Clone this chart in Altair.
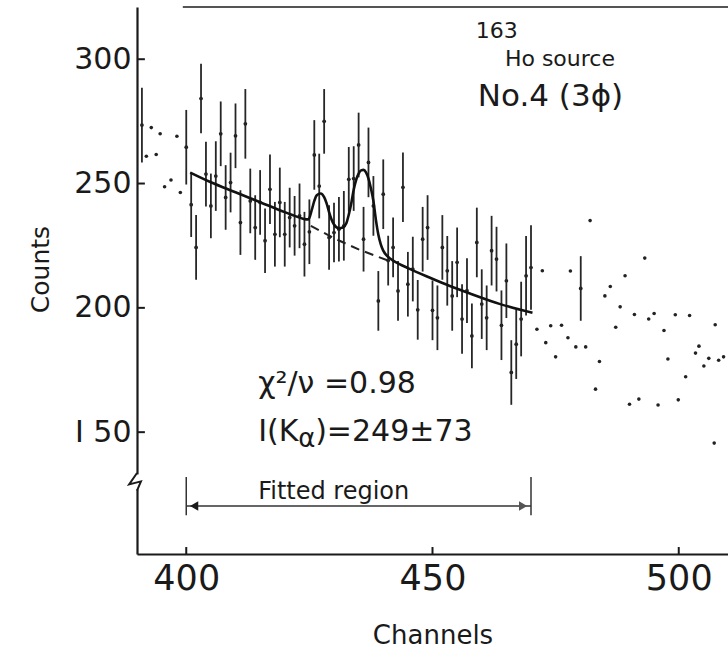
import altair as alt
import pandas as pd

# ---- data ----
fit_ch = list(range(400, 471))
fit_cnt = [264.6, 241.5, 224.3, 284.2, 253.8, 241.0, 253.0, 270.0, 244.4, 250.4,
           269.2, 234.3, 274.0, 243.0, 232.3, 242.4, 227.0, 247.7, 229.6, 242.4,
           229.6, 236.3, 233.0, 237.0, 225.6, 230.6, 261.5, 249.0, 275.0, 228.3,
           230.3, 231.6, 233.0, 251.7, 252.0, 265.5, 227.6, 258.5, 241.0, 202.8,
           245.7, 219.0, 224.3, 206.8, 248.5, 209.5, 215.6, 199.2, 227.6, 232.3,
           199.0, 196.0, 224.3, 214.9, 204.8, 218.3, 195.5, 206.9, 188.7, 226.3,
           201.5, 196.0, 223.0, 219.6, 193.0, 210.9, 174.0, 185.4, 195.5, 212.9,
           216.2]
fit_err = [15, 13, 13, 14, 13, 13, 14, 13, 13, 12,
           13, 13, 14, 13, 13, 13, 13, 14, 13, 14,
           13, 12, 12, 13, 13, 13, 14, 13, 13, 13,
           12, 13, 14, 13, 13, 13, 13, 14, 12, 12,
           14, 10, 12, 12, 14, 13, 13, 12, 13, 13,
           12, 13, 13, 14, 14, 14, 14, 13, 13, 14,
           14, 13, 14, 13, 14, 15, 13, 14, 15, 16,
           17]

side_bar_ch = [391.0, 480.1]
side_bar_cnt = [273.5, 207.8]
side_bar_err = [15, 13]

left_dot_ch = [392.9, 394.7, 398.1, 391.9, 393.9, 395.6, 396.9, 398.8]
left_dot_cnt = [272.5, 270.0, 269.0, 261.0, 261.7, 248.7, 251.4, 246.4]

right_dot_ch = [472.3, 471.2, 473.0, 474.0, 475.0, 476.2, 477.5, 478.0, 479.1, 481.1,
                482.0, 483.1, 483.9, 485.0, 486.1, 487.2, 488.1, 489.1, 490.0, 491.0,
                491.9, 493.1, 493.9, 495.0, 495.8, 497.0, 497.8, 499.3, 499.9, 501.4,
                502.2, 503.4, 504.1, 505.1, 506.1, 507.4, 508.1, 509.1, 507.2]
right_dot_cnt = [214.9, 191.4, 186.0, 192.8, 180.3, 193.0, 188.0, 214.8, 184.3, 184.3,
                 235.1, 167.3, 178.4, 204.8, 208.6, 192.2, 200.4, 212.9, 161.2, 197.3,
                 163.3, 220.0, 195.5, 197.7, 160.9, 190.9, 179.4, 197.2, 163.0, 172.3,
                 196.9, 181.8, 184.6, 176.6, 179.7, 193.2, 178.9, 180.3, 145.6]

curve_ch = [400.8, 405, 410, 415, 420, 423, 424, 424.8, 425.5, 426, 426.5, 427.3, 428,
            428.5, 429, 429.5, 430, 431, 431.8, 432.5, 433, 433.5, 434, 434.5, 435,
            435.5, 436, 436.5, 437, 437.5, 438, 438.5, 439, 439.5, 440, 441, 442,
            443.3, 445, 449.4, 453.4, 458, 463.6, 470.3]
curve_cnt = [254.4, 250.5, 246.5, 242.5, 238.5, 236.3, 235.7, 235.6, 239.5, 243.0,
             245.3, 246.0, 244.5, 242.0, 238.5, 235.5, 233.5, 232.0, 232.3, 234.0,
             237.5, 242.0, 247.5, 251.5, 254.0, 255.3, 255.5, 254.5, 252.0, 248.0,
             243.0, 235.5, 229.5, 225.5, 223.0, 220.5, 219.0, 217.6, 216.0, 212.2,
             208.9, 205.5, 201.6, 198.0]

bg_ch = [425.3, 430.0, 435.0, 441.0]
bg_cnt = [233.0, 228.0, 223.5, 219.0]

y_ticks = [150, 200, 250, 300]
x_ticks = [400, 450, 500]

FONT = "DejaVu Sans"
INK = "#1a1a1a"

# ---- scales / shared encodings ----
xs = alt.Scale(domain=[390, 510], nice=False, zero=False)
ys = alt.Scale(domain=[101, 321], nice=False, zero=False)

x_axis = alt.Axis(
    values=x_ticks, title="Channels", ticks=False, grid=False,
    labelFontSize=35, labelPadding=7, labelFont=FONT, labelColor=INK,
    titleFont=FONT, titleFontSize=26, titleFontWeight="normal", titlePadding=26,
    titleColor=INK, domainColor=INK, domainWidth=2.2, labelFlush=False)
y_axis = alt.Axis(
    values=y_ticks, title="Counts", ticks=False, grid=False,
    labelFontSize=30, labelPadding=6, labelFont=FONT, labelColor=INK,
    labelExpr="datum.value == 150 ? 'I 50' : datum.label",
    titleFont=FONT, titleFontSize=25, titleFontWeight="normal", titlePadding=20,
    titleY=262, titleColor=INK, domainColor=INK, domainWidth=2.2, labelFlush=False)

X = alt.X("ch:Q", scale=xs, axis=x_axis)
Y = alt.Y("cnt:Q", scale=ys, axis=y_axis)

fit_df = pd.DataFrame({"ch": fit_ch, "cnt": fit_cnt, "err": fit_err})
side_df = pd.DataFrame({"ch": side_bar_ch, "cnt": side_bar_cnt, "err": side_bar_err})
bars_df = pd.concat([fit_df, side_df], ignore_index=True)
dots_df = pd.DataFrame({"ch": left_dot_ch + right_dot_ch,
                        "cnt": left_dot_cnt + right_dot_cnt})
curve_df = pd.DataFrame({"ch": curve_ch, "cnt": curve_cnt})
bg_df = pd.DataFrame({"ch": bg_ch, "cnt": bg_cnt})

base_bars = alt.Chart(bars_df)
centers = base_bars.mark_point(filled=True, color=INK, size=14, opacity=1).encode(x=X, y=Y)
errbars = base_bars.transform_calculate(
    lo="datum.cnt - datum.err", hi="datum.cnt + datum.err"
).mark_rule(color="#262626", strokeWidth=1.8).encode(
    x=X, y=alt.Y("lo:Q", scale=ys, axis=y_axis), y2="hi:Q")
dots = alt.Chart(dots_df).mark_point(filled=True, color="#222222", size=13, opacity=1).encode(x=X, y=Y)

curve = alt.Chart(curve_df).mark_line(color="#111111", strokeWidth=2.6, interpolate="monotone").encode(
    x=X, y=Y, order="ch:Q")
bg = alt.Chart(bg_df).mark_line(color="#222222", strokeWidth=2, strokeDash=[9, 6]).encode(
    x=X, y=Y, order="ch:Q")

# inward tick marks
ytick_df = pd.DataFrame({"ch": [390.0] * 4, "ch2": [391.6] * 4, "cnt": y_ticks})
xtick_df = pd.DataFrame({"ch": x_ticks, "cnt": [101.0] * 3, "cnt2": [103.8] * 3})
yticks = alt.Chart(ytick_df).mark_rule(color=INK, strokeWidth=2).encode(x=X, x2="ch2:Q", y=Y)
xticks = alt.Chart(xtick_df).mark_rule(color=INK, strokeWidth=2).encode(x=X, y=Y, y2="cnt2:Q")

# top frame line
top_df = pd.DataFrame({"ch": [399.3], "ch2": [510.0], "cnt": [321.0]})
top = alt.Chart(top_df).mark_rule(color="#555555", strokeWidth=2).encode(x=X, x2="ch2:Q", y=Y)

# axis break zigzag
zig_df = pd.DataFrame({"ch": [390.0, 388.4, 390.8, 390.0],
                       "cnt": [133.6, 129.0, 130.2, 126.5],
                       "k": [0, 1, 2, 3]})
white_df = pd.DataFrame({"ch": [390.0], "cnt": [133.0], "cnt2": [127.0]})
gap = alt.Chart(white_df).mark_rule(color="white", strokeWidth=5).encode(x=X, y=Y, y2="cnt2:Q")
zig = alt.Chart(zig_df).mark_line(color=INK, strokeWidth=2, clip=False).encode(x=X, y=Y, order="k:Q")

# fitted region arrow
arr_df = pd.DataFrame({"ch": [400.0], "ch2": [470.0], "cnt": [120.3]})
arrow_line = alt.Chart(arr_df).mark_rule(color="#333333", strokeWidth=1.5).encode(x=X, x2="ch2:Q", y=Y)
end_df = pd.DataFrame({"ch": [400.0, 470.0], "cnt": [132.0, 132.0], "cnt2": [116.6, 116.6]})
ends = alt.Chart(end_df).mark_rule(color="#333333", strokeWidth=1.5).encode(x=X, y=Y, y2="cnt2:Q")
head_l = alt.Chart(pd.DataFrame({"ch": [401.6], "cnt": [120.3]})).mark_point(
    shape="triangle-left", filled=True, size=90, color=INK, opacity=1).encode(x=X, y=Y)
head_r = alt.Chart(pd.DataFrame({"ch": [468.4], "cnt": [120.3]})).mark_point(
    shape="triangle-right", filled=True, size=90, color="#555555", opacity=1).encode(x=X, y=Y)


def label(ch, cnt, text, size, dx=0, dy=0, color=INK):
    df = pd.DataFrame({"ch": [ch], "cnt": [cnt], "t": [text]})
    return alt.Chart(df).mark_text(align="left", baseline="middle", font=FONT,
                                   fontSize=size, color=color, dx=dx, dy=dy).encode(
        x=X, y=Y, text="t:N")


texts = [
    label(458.8, 311.5, "163", 22),
    label(464.7, 300.0, "Ho source", 22),
    label(459.2, 285.0, "No.4 (3ϕ)", 31),
    label(414.6, 169.4, "χ²/ν =0.98", 30),
    label(414.6, 150.0, "I(K", 30),
    label(414.6, 150.0, "α", 26, dx=40, dy=7),
    label(414.6, 150.0, ")=249±73", 30, dx=57),
    label(414.6, 126.0, "Fitted region", 24),
]

chart = alt.layer(
    centers, errbars, dots, curve, bg, yticks, xticks, top, gap, zig,
    arrow_line, ends, head_l, head_r, *texts
).properties(
    width=591, height=547,
    padding={"left": 137, "top": 7, "right": 0, "bottom": 98},
    autosize=alt.AutoSizeParams(type="none"),
    background="white",
).configure_view(stroke=None)

chart.save("out.html", embed_options={"renderer": "svg", "actions": False})
